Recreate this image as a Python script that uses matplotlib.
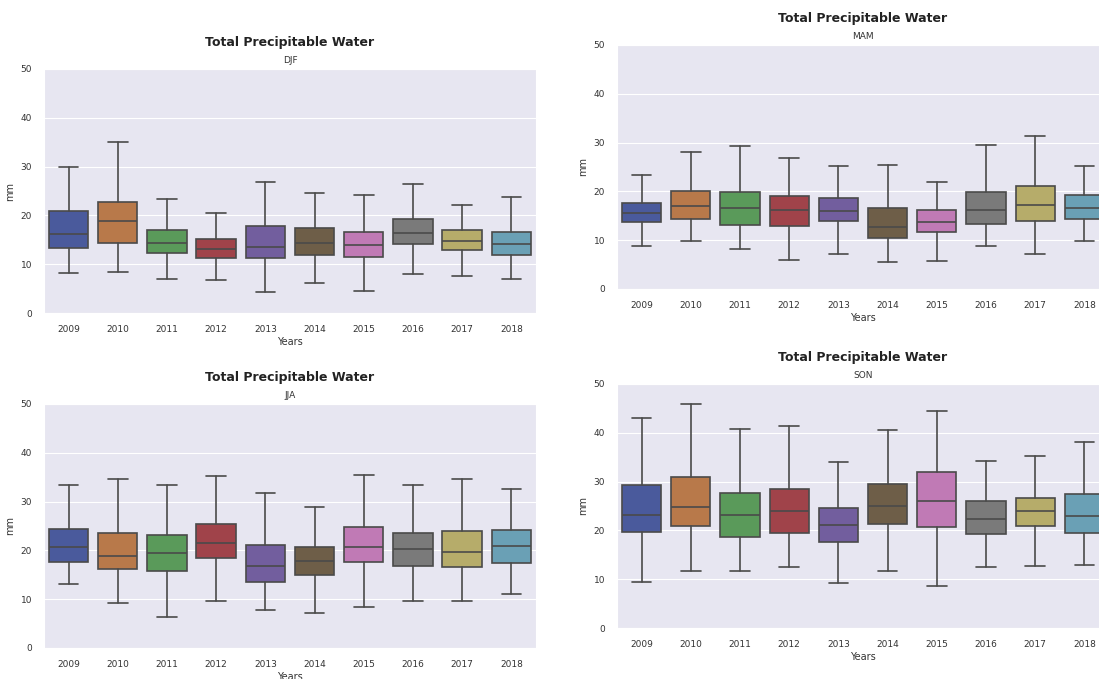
import matplotlib
matplotlib.use("Agg")
import matplotlib.pyplot as plt
import seaborn as sns

years = ["2009", "2010", "2011", "2012", "2013", "2014", "2015", "2016", "2017", "2018"]

# DJF
djf_low = [8.1, 8.4, 6.9, 6.7, 4.4, 6.1, 4.6, 8.0, 7.5, 6.9]
djf_q1 = [13.3, 14.3, 12.2, 11.2, 11.2, 11.8, 11.4, 14.1, 13.0, 11.8]
djf_med = [16.2, 18.8, 14.3, 13.1, 13.5, 14.3, 13.9, 16.3, 14.8, 14.2]
djf_q3 = [20.9, 22.8, 17.1, 15.1, 17.9, 17.5, 16.6, 19.2, 17.1, 16.7]
djf_high = [29.9, 35.0, 23.3, 20.4, 26.9, 24.6, 24.1, 26.4, 22.2, 23.8]

# MAM
mam_low = [8.8, 9.8, 8.1, 5.9, 7.2, 5.5, 5.7, 8.8, 7.2, 9.8]
mam_q1 = [13.8, 14.4, 13.2, 12.9, 14.0, 10.5, 11.7, 13.3, 14.0, 14.4]
mam_med = [15.5, 16.9, 16.5, 16.2, 15.9, 12.8, 13.8, 16.2, 17.2, 16.5]
mam_q3 = [17.6, 20.0, 19.8, 19.1, 18.6, 16.5, 16.1, 19.9, 21.0, 19.3]
mam_high = [23.4, 28.1, 29.3, 26.9, 25.3, 25.5, 21.9, 29.6, 31.4, 25.1]

# JJA
jja_low = [13.2, 9.3, 6.3, 9.6, 7.8, 7.2, 8.4, 9.6, 9.6, 11.1]
jja_q1 = [17.7, 16.1, 15.8, 18.4, 13.6, 14.9, 17.7, 16.8, 16.6, 17.5]
jja_med = [20.6, 18.8, 19.5, 21.5, 16.7, 17.8, 20.7, 20.2, 19.6, 20.9]
jja_q3 = [24.3, 23.6, 23.1, 25.5, 21.1, 20.7, 24.8, 23.6, 24.0, 24.1]
jja_high = [33.4, 34.6, 33.4, 35.2, 31.8, 28.9, 35.4, 33.3, 34.6, 32.5]

# SON
son_low = [9.5, 11.6, 11.7, 12.5, 9.3, 11.6, 8.7, 12.4, 12.7, 12.9]
son_q1 = [19.7, 20.8, 18.6, 19.5, 17.6, 21.4, 20.7, 19.3, 20.9, 19.4]
son_med = [23.1, 24.8, 23.1, 23.9, 21.1, 24.9, 26.1, 22.3, 23.9, 22.9]
son_q3 = [29.3, 31.0, 27.6, 28.4, 24.6, 29.5, 31.9, 26.0, 26.7, 27.4]
son_high = [43.0, 45.8, 40.7, 41.3, 34.0, 40.5, 44.5, 34.2, 35.2, 38.1]

seasons = ["DJF", "MAM", "JJA", "SON"]
season_data = {
    "DJF": (djf_low, djf_q1, djf_med, djf_q3, djf_high),
    "MAM": (mam_low, mam_q1, mam_med, mam_q3, mam_high),
    "JJA": (jja_low, jja_q1, jja_med, jja_q3, jja_high),
    "SON": (son_low, son_q1, son_med, son_q3, son_high),
}

box_colors = ["#4A5A9C", "#B8794A", "#5A9A5A", "#A0434A", "#725E9E",
              "#6E5E48", "#C07AB5", "#7A7A7A", "#B6AC6A", "#6AA0B5"]

sns.set_style("darkgrid")
plt.rcParams["font.family"] = ["DejaVu Sans"]

line_color = "#4a4a4a"
text_color = "#333333"

fig = plt.figure(figsize=(10.99, 6.79), dpi=100)
W, H = 0.4477, 0.3594
positions = {
    "DJF": [0.040, 0.539, W, H],
    "MAM": [0.5614, 0.5744, W, H],
    "JJA": [0.040, 0.0457, W, H],
    "SON": [0.5614, 0.0751, W, H],
}

for s in seasons:
    ax = fig.add_axes(positions[s])
    ax.set_facecolor("#E7E6F1")
    lo, q1, med, q3, hi = season_data[s]
    stats = []
    for i in range(len(years)):
        stats.append({"whislo": lo[i], "q1": q1[i], "med": med[i],
                      "q3": q3[i], "whishi": hi[i], "label": years[i]})
    bp = ax.bxp(stats, positions=range(len(years)), widths=0.8,
                showfliers=False, patch_artist=True,
                boxprops=dict(edgecolor=line_color, linewidth=1.2),
                whiskerprops=dict(color=line_color, linewidth=1.2),
                capprops=dict(color=line_color, linewidth=1.2),
                medianprops=dict(color=line_color, linewidth=1.2))
    for patch, c in zip(bp["boxes"], box_colors):
        patch.set_facecolor(c)
    ax.set_xlim(-0.5, len(years) - 0.5)
    ax.set_ylim(0, 50)
    ax.set_yticks([0, 10, 20, 30, 40, 50])
    ax.xaxis.grid(False)
    ax.tick_params(axis="both", labelsize=6.5, pad=5, colors=text_color)
    ax.set_xlabel("Years", fontsize=7, labelpad=2, color=text_color)
    ax.set_ylabel("mm", fontsize=7, labelpad=4, color=text_color)
    ax.set_title(s, fontsize=6.5, pad=4, color=text_color)
    ax.text(0.5, 1.11, "Total Precipitable Water", transform=ax.transAxes,
            ha="center", va="center", fontsize=9, fontweight="bold",
            color="#222222")

fig.savefig("out.png", dpi=100)
